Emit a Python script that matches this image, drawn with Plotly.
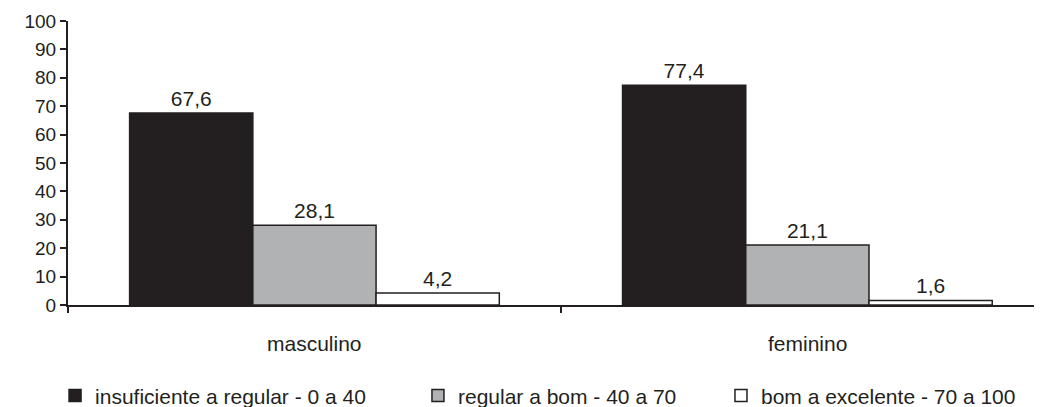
import plotly.graph_objects as go

categories = ["masculino", "feminino"]
series_names = ["insuficiente a regular - 0 a 40", "regular a bom - 40 a 70", "bom a excelente - 70 a 100"]
values = {
    "insuficiente a regular - 0 a 40": [67.6, 77.4],
    "regular a bom - 40 a 70": [28.1, 21.1],
    "bom a excelente - 70 a 100": [4.2, 1.6],
}
colors = ["#231f20", "#b1b2b4", "#ffffff"]
y_ticks = list(range(0, 101, 10))

FONT = "Liberation Sans, Arial"
INK = "#231f20"
legend_ids = ["legend", "legend2", "legend3"]
legend_x = [-0.0133, 0.3593, 0.6704]

xpos = list(range(len(categories)))
fig = go.Figure()
for name, col, lid in zip(series_names, colors, legend_ids):
    vals = values[name]
    fig.add_trace(go.Bar(
        x=xpos, y=vals, name=name, legend=lid,
        marker=dict(color=col, line=dict(color=INK, width=1.5)),
        text=[f"{v:.1f}".replace(".", ",") for v in vals],
        textposition="outside", cliponaxis=False,
        textfont=dict(size=21, color=INK, family=FONT),
    ))

for i, c in enumerate(categories):
    fig.add_annotation(x=i, y=-0.137, xref="x", yref="paper", yanchor="middle",
                       text=c, showarrow=False,
                       font=dict(size=21, color=INK, family=FONT))

legend_common = dict(orientation="h", xanchor="left", yref="container", y=0.047, yanchor="middle",
                     font=dict(size=21, color=INK, family=FONT), borderwidth=0,
                     bgcolor="rgba(0,0,0,0)")

fig.update_layout(
    width=1042, height=407,
    margin=dict(l=60, r=8, t=13, b=110),
    paper_bgcolor="white", plot_bgcolor="white",
    barmode="group", bargap=0.25, bargroupgap=0,
    font=dict(family=FONT, size=16, color=INK),
    showlegend=True,
    legend=dict(x=legend_x[0], **legend_common),
    legend2=dict(x=legend_x[1], **legend_common),
    legend3=dict(x=legend_x[2], **legend_common),
    xaxis=dict(range=[-0.5, 1.476], tickvals=[-0.5, 0.5], ticktext=["", ""],
               ticks="outside", ticklen=6, tickwidth=2, tickcolor=INK, automargin=False,
               showline=True, linecolor=INK, linewidth=2, showgrid=False, zeroline=False),
    yaxis=dict(range=[0, 100], tickvals=y_ticks, ticks="outside", ticklen=6, tickwidth=2,
               tickcolor=INK, showline=True, linecolor=INK, linewidth=2, automargin=False,
               showgrid=False, zeroline=False, tickfont=dict(size=19, color=INK, family=FONT)),
)
fig.write_html("out.html")
